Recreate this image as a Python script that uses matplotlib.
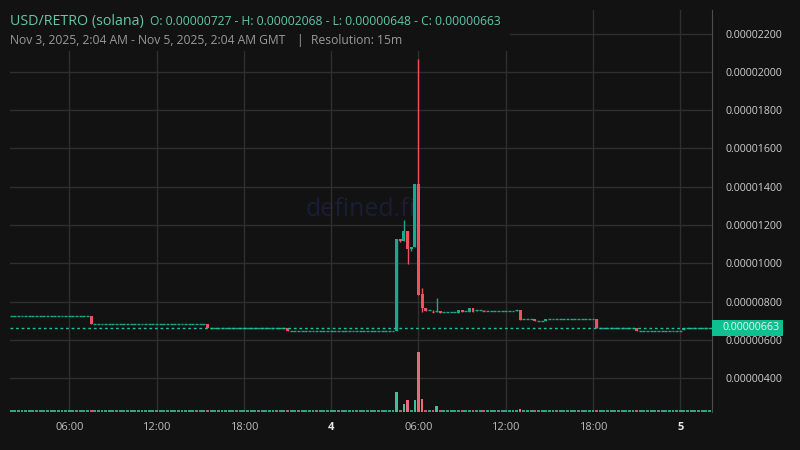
import numpy as np
import matplotlib
matplotlib.use("Agg")
import matplotlib.pyplot as plt
from matplotlib.patches import Rectangle
from matplotlib.ticker import FuncFormatter
import matplotlib.transforms as mtransforms

plt.rcParams['font.family'] = ['Open Sans', 'DejaVu Sans']

# hours since Nov 3, 00:00 GMT ; prices in units of 1e-6 USD
flat_start = [2.0, 7.75, 15.75, 21.25, 31.75, 33.25, 34.25, 34.75, 37.25, 38.25, 39.0, 42.5, 45.25, 48.5]
flat_end = [7.25, 15.25, 20.75, 28.25, 32.5, 33.25, 34.25, 36.5, 37.75, 38.5, 42.0, 44.75, 48.0, 50.0]
flat_price = [7.27, 6.86, 6.62, 6.49, 7.44, 7.49, 7.55, 7.51, 7.08, 7.01, 7.12, 6.65, 6.49, 6.63]
flat_vol = 140

candle_time = [7.5, 15.5, 21.0, 28.5, 28.75, 29.0, 29.25, 29.5, 29.75, 30.0, 30.25, 30.5, 30.75,
               31.0, 31.25, 31.5, 32.75, 33.0, 33.5, 33.75, 34.0, 34.5, 36.75, 37.0, 38.0, 38.75,
               42.25, 45.0, 48.25]
candle_open = [7.27, 6.86, 6.62, 6.49, 11.28, 11.17, 11.69, 10.75, 10.86, 14.16, 8.40, 7.65, 7.54,
               7.54, 7.47, 7.51, 7.42, 7.56, 7.46, 7.66, 7.49, 7.55, 7.49, 7.56, 7.08, 7.00,
               7.12, 6.65, 6.50]
candle_high = [7.27, 6.86, 6.62, 11.28, 11.28, 12.27, 11.69, 10.86, 14.16, 20.68, 8.72, 7.65, 7.54,
               7.54, 8.17, 7.51, 7.56, 7.56, 7.66, 7.66, 7.55, 7.55, 7.56, 7.56, 7.08, 7.12,
               7.12, 6.65, 6.63]
candle_low = [6.86, 6.62, 6.48, 6.49, 11.12, 11.17, 9.98, 10.65, 10.86, 8.35, 7.48, 7.52, 7.54,
              7.47, 7.47, 7.40, 7.42, 7.46, 7.46, 7.46, 7.49, 7.49, 7.49, 7.04, 6.98, 7.00,
              6.65, 6.49, 6.50]
candle_close = [6.86, 6.62, 6.49, 11.28, 11.17, 11.69, 10.75, 10.86, 14.16, 8.35, 7.65, 7.52, 7.54,
                7.47, 7.49, 7.40, 7.56, 7.46, 7.66, 7.46, 7.55, 7.49, 7.56, 7.04, 6.98, 7.12,
                6.65, 6.49, 6.63]
candle_vol = [160, 150, 160, 1970, 170, 770, 1170, 170, 1170, 6000, 1270, 140, 140,
              140, 570, 140, 140, 140, 140, 140, 140, 140, 140, 270, 140, 140,
              150, 140, 140]

last_price = 6.63
y_ticks = [4, 6, 8, 10, 12, 14, 16, 18, 20, 22]
x_ticks = [6, 12, 18, 24, 30, 36, 42, 48]
x_labels = ["06:00", "12:00", "18:00", "4", "06:00", "12:00", "18:00", "5"]

# build the full 15m series
t, o, h, l, c, v = [], [], [], [], [], []
for s, e, p in zip(flat_start, flat_end, flat_price):
    for tt in np.arange(s, e + 0.01, 0.25):
        t.append(tt); o.append(p); h.append(p); l.append(p); c.append(p); v.append(flat_vol)
t += candle_time; o += candle_open; h += candle_high; l += candle_low; c += candle_close; v += candle_vol
t = np.array(t); o = np.array(o) * 1e-6; h = np.array(h) * 1e-6
l = np.array(l) * 1e-6; c = np.array(c) * 1e-6; v = np.array(v)

bg = "#121212"
green = "#1aa98a"
red = "#f0525d"
vgreen = "#3fbf9a"
vred = "#e86a7b"
grid_c = "#2f2f2f"

fig = plt.figure(figsize=(8, 4.5), dpi=100, facecolor=bg)
ax = fig.add_axes([10 / 800, 1 - 412 / 450, 702 / 800, 402 / 450], facecolor=bg)
ax.set_xlim(1.924, 50.18)
ax.set_ylim(2.24e-6, 23.23e-6)

up = c >= o
cols = np.where(up, green, red)
px = (23.23e-6 - 2.24e-6) / 402
flat = np.abs(c - o) < 1.4 * px
moving = ~flat
# wicks and bodies of candles that moved
ax.vlines(t[moving], l[moving], h[moving], colors=cols[moving], lw=1, zorder=3)
ax.bar(t[moving], np.abs(c - o)[moving], bottom=np.minimum(o, c)[moving], width=0.2,
       color=cols[moving], lw=0, zorder=3)
# flat candles: a short horizontal dash
ax.hlines(c[flat], t[flat] - 0.1, t[flat] + 0.1, colors=cols[flat], lw=1.0, zorder=3, snap=True)
wick = flat & (h - l > px)
ax.vlines(t[wick], l[wick], h[wick], colors=cols[wick], lw=1, zorder=3)

# watermark
ax.text(0.5, 0.4876, "defined.fi", transform=ax.transAxes, ha="center", va="baseline",
        fontsize=18, color="#1d1c36", zorder=1)

# last price line + label
ax.axhline(last_price * 1e-6, color="#19c39c", lw=1, ls=(0, (2, 2)), zorder=4)
tr = mtransforms.blended_transform_factory(ax.transAxes, ax.transData)
ax.add_patch(Rectangle((1.0, last_price * 1e-6 - 8 * px), 71 / 702, 16 * px, transform=tr,
                       facecolor="#0ec090", edgecolor="none", clip_on=False, zorder=6))
ax.text(1.0 + 11 / 702, last_price * 1e-6, "0.00000663", transform=tr, ha="left", va="center",
        fontsize=7.7, color="#f2f2f2", zorder=7, clip_on=False)

ax.set_yticks([y * 1e-6 for y in y_ticks])
ax.yaxis.set_major_formatter(FuncFormatter(lambda val, pos: f"{val:.8f}"))
ax.yaxis.tick_right()
ax.set_xticks(x_ticks)
ax.set_xticklabels(x_labels)
ax.tick_params(axis="y", length=0, pad=10, labelsize=7.7, labelcolor="#cfcfcf")
ax.tick_params(axis="x", length=0, pad=7, labelsize=8, labelcolor="#bdbdbd")
for lab in ax.get_xticklabels():
    if lab.get_text() in ("4", "5"):
        lab.set_fontweight("bold")
        lab.set_color("#e8e8e8")
ax.grid(True, color=grid_c, lw=1)
for s in ["top", "left", "bottom"]:
    ax.spines[s].set_visible(False)
ax.spines["right"].set_color("#4d4d4d")

# volume
vax = fig.add_axes(ax.get_position(), sharex=ax)
vax.patch.set_visible(False)
vax.axis("off")
vax.set_ylim(0, 40200)
vcols = np.where(up, vgreen, vred)
big = v > 200
vax.bar(t[big], v[big], width=0.16, color=vcols[big], lw=0)
vax.hlines(np.full((~big).sum(), 100), t[~big] - 0.1, t[~big] + 0.1, colors=vcols[~big],
           lw=1.2, snap=True, clip_on=False)

# header
fig.add_artist(Rectangle((0, 1 - 51 / 450), 510 / 800, 51 / 450, transform=fig.transFigure,
                         facecolor=bg, edgecolor="none", zorder=2.5))
fig.text(0.0125, 1 - 25 / 450, "USD/RETRO (solana)", fontsize=10.3, color="#62c8a8", va="baseline")
fig.text(0.1875, 1 - 25 / 450, "O: 0.00000727 - H: 0.00002068 - L: 0.00000648 - C: 0.00000663",
         fontsize=8.7, color="#62c8a8", va="baseline")
fig.text(0.0125, 1 - 44.3 / 450, "Nov 3, 2025, 2:04 AM - Nov 5, 2025, 2:04 AM GMT",
         fontsize=8.75, color="#9a9a9a", va="baseline")
fig.text(296 / 800, 1 - 44.3 / 450, "|", fontsize=8.7, color="#9a9a9a", va="baseline")
fig.text(311 / 800, 1 - 44.3 / 450, "Resolution: 15m", fontsize=8.7, color="#9a9a9a", va="baseline")

fig.savefig("out.png", dpi=100, facecolor=bg)
